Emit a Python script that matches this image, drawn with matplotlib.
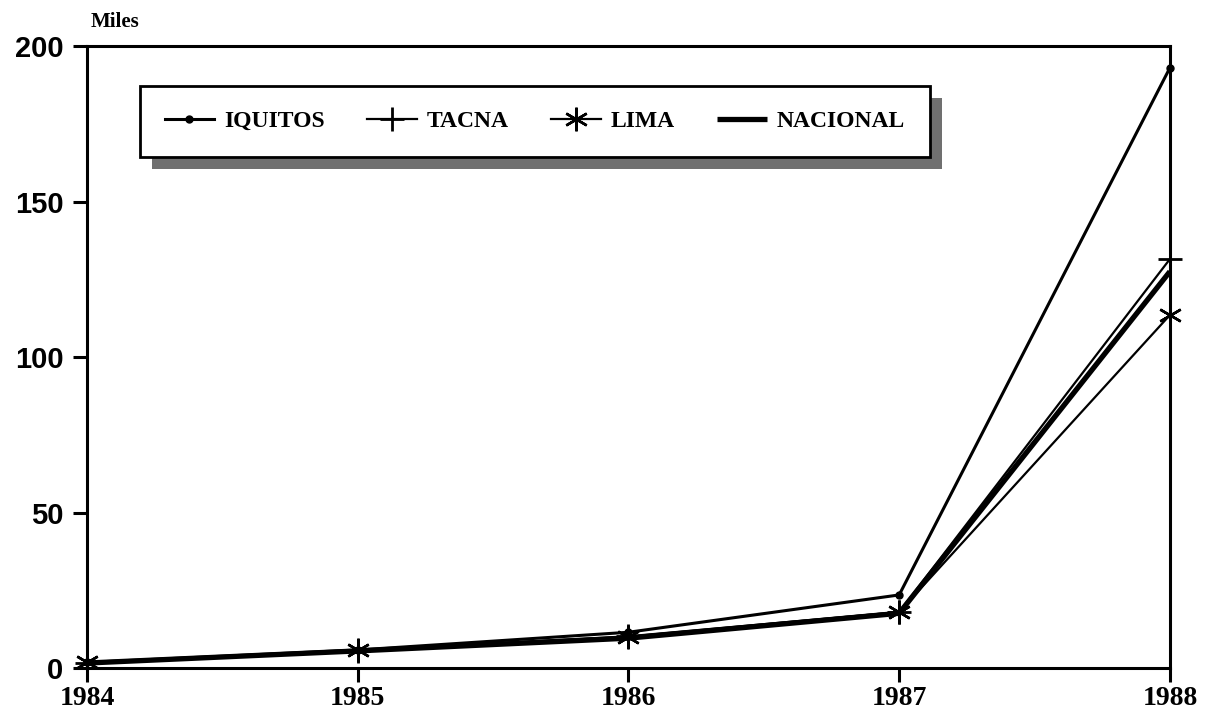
import matplotlib
matplotlib.use("Agg")
import matplotlib.pyplot as plt
import matplotlib.patches as mpatches

# years on the x axis
years = [1984, 1985, 1986, 1987, 1988]

# values in thousands (Miles)
iquitos = [1.8, 5.8, 11.5, 23.5, 193.0]
tacna = [1.6, 5.6, 10.2, 18.0, 131.5]
lima = [1.8, 5.8, 10.0, 18.0, 113.5]
nacional = [1.6, 5.5, 9.6, 17.6, 127.5]

yticks = [0, 50, 100, 150, 200]

fig = plt.figure(figsize=(12.16, 7.19), dpi=100)
ax = fig.add_axes([0.0715, 0.0709, 0.8906, 0.8651])

# thick national line goes under the city lines
ax.plot(years, nacional, color="black", lw=3.8, solid_capstyle="butt",
        label="NACIONAL", zorder=2, clip_on=False)
ax.plot(years, iquitos, color="black", lw=2.2, marker="o", ms=5,
        label="IQUITOS", zorder=3, clip_on=False)
ax.plot(years, tacna, color="black", lw=1.6, marker="+", ms=17, mew=2,
        label="TACNA", zorder=3, clip_on=False)
ax.plot(years, lima, color="black", lw=1.6, marker=(6, 2, 0), ms=17, mew=1.8,
        label="LIMA", zorder=3, clip_on=False)

ax.set_xlim(1984, 1988)
ax.set_ylim(0, 200)
ax.set_xticks(years)
ax.set_xticklabels([str(y) for y in years], fontfamily="Liberation Serif",
                   fontweight="bold", fontsize=20)
ax.set_yticks(yticks)
ax.set_yticklabels([str(v) for v in yticks], fontfamily="Liberation Sans",
                   fontweight="bold", fontsize=21)
ax.tick_params(axis="x", direction="out", length=10, width=2.2, pad=3)
ax.tick_params(axis="y", direction="out", length=10, width=2.2, pad=7)
for s in ax.spines.values():
    s.set_linewidth(2.2)
    s.set_color("black")

ax.text(0.003, 1.03, "Miles", transform=ax.transAxes,
        fontfamily="Liberation Serif", fontweight="bold", fontsize=15,
        ha="left", va="baseline")

handles, labels = ax.get_legend_handles_labels()
order = [1, 2, 3, 0]
leg = ax.legend([handles[i] for i in order], [labels[i] for i in order],
                ncol=4, loc="upper left", bbox_to_anchor=(0.0489, 0.9357),
                borderaxespad=0,
                prop={"family": "Liberation Serif", "weight": "bold",
                      "size": 17},
                frameon=True, fancybox=False, edgecolor="black",
                framealpha=1, borderpad=1.05, handlelength=2.1,
                handletextpad=0.42, columnspacing=1.8)
leg.get_frame().set_linewidth(2)
leg.set_zorder(5)

# offset gray shadow behind the legend box
fig.canvas.draw()
bb = leg.get_window_extent()
shadow = mpatches.Rectangle((bb.x0 + 12, bb.y0 - 12), bb.width, bb.height,
                            transform=None, facecolor="#707070",
                            edgecolor="none", zorder=4)
ax.add_artist(shadow)

fig.savefig("out.png", dpi=100)
